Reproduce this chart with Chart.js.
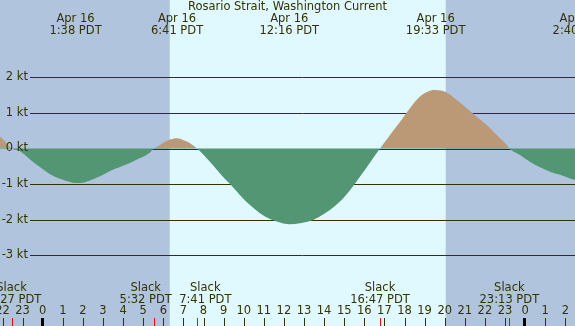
<!DOCTYPE html>
<html>
<head>
<meta charset="utf-8">
<script src="https://cdn.jsdelivr.net/npm/chart.js@4/dist/chart.umd.min.js"></script>
<style>
  body { margin: 0; background: #b0c4de; }
  #wrap { width: 575px; height: 326px; position: relative; }
</style>
</head>
<body>
<div id="wrap"><canvas id="tide-chart-canvas"></canvas></div>
<script>
// 時刻 (Apr 16 0:00 からの時間) と流速 (kt).
const times = [
  -2.12, -1.85, -1.55, -1.13, -0.63, -0.13, 0.36, 0.86, 1.36, 1.63, 1.86, 2.35, 2.85, 3.35, 3.85, 4.34, 4.84, 5.34, 5.53,
  5.84, 6.08, 6.33, 6.68, 7.08, 7.33, 7.68,
  8.32, 8.82, 9.32, 9.82, 10.31, 10.81, 11.31, 11.81, 12.27, 12.80, 13.30, 13.80, 14.29, 14.79, 15.29, 15.79, 16.28, 16.78,
  17.28, 17.78, 18.27, 18.77, 19.27, 19.55, 20.10, 20.60, 21.10, 21.59, 22.09, 22.59, 23.09, 23.22,
  23.75, 24.24, 24.74, 25.24, 25.74, 26.23, 26.48, 26.67
];
const speeds = [
  0.34, 0.18, 0, -0.08, -0.31, -0.53, -0.72, -0.85, -0.94, -0.97, -0.97, -0.90, -0.78, -0.63, -0.52, -0.41, -0.27, -0.11, 0,
  0.10, 0.19, 0.25, 0.29, 0.22, 0.15, 0,
  -0.37, -0.70, -1.00, -1.31, -1.59, -1.82, -1.98, -2.08, -2.13, -2.10, -2.04, -1.90, -1.73, -1.49, -1.17, -0.79, -0.40, 0,
  0.38, 0.75, 1.13, 1.46, 1.62, 1.64, 1.57, 1.36, 1.13, 0.89, 0.66, 0.38, 0.10, 0,
  -0.18, -0.37, -0.53, -0.65, -0.74, -0.84, -0.88, -0.90
];

// 最大流の時刻とラベル (上).
const eventTimes = [1.633, 6.683, 12.267, 19.55, 26.667];
const eventDates = ['Apr 16', 'Apr 16', 'Apr 16', 'Apr 16', 'Apr 17'];
const eventLabels = ['1:38 PDT', '6:41 PDT', '12:16 PDT', '19:33 PDT', '2:40 PDT'];

// 憩流 (下).
const slackTimes = [-1.55, 5.533, 7.683, 16.783, 23.217];
const slackLabels = ['22:27 PDT', '5:32 PDT', '7:41 PDT', '16:47 PDT', '23:13 PDT'];

// 目盛り.
const hourTicks = [-2, -1, 0, 1, 2, 3, 4, 5, 6, 7, 8, 9, 10, 11, 12, 13, 14, 15, 16, 17, 18, 19, 20, 21, 22, 23, 24, 25, 26];
const ktTicks = [2, 1, 0, -1, -2, -3];

// 日の出・日の入り.
const sunrise = 6.32;
const sunset = 20.05;

const TITLE = 'Rosario Strait, Washington Current';
const NightColor = '#b0c4de';
const DayColor = '#e0f8ff';
const FloodColor = '#bb9977';
const EbbColor = '#529673';
const InkColor = '#333300';
const FONT = '11.5px "DejaVu Sans"';

// 背景 (昼/夜) と横線.
const backgroundPlugin = {
  id: 'background',
  beforeDraw(chart) {
    const ctx = chart.ctx;
    const x = chart.scales.x;
    ctx.save();
    ctx.fillStyle = NightColor;
    ctx.fillRect(0, 0, chart.width, chart.height);
    const x0 = x.getPixelForValue(sunrise);
    const x1 = x.getPixelForValue(sunset);
    ctx.fillStyle = DayColor;
    ctx.fillRect(x0, 0, x1 - x0, chart.height);
    const y = chart.scales.y;
    ctx.strokeStyle = InkColor;
    ctx.lineWidth = 1;
    ktTicks.forEach(function(v) {
      const py = Math.round(y.getPixelForValue(v)) + 0.5;
      ctx.beginPath();
      ctx.moveTo(30, py);
      ctx.lineTo(chart.width, py);
      ctx.stroke();
    });
    ctx.restore();
  }
};

// ラベル類.
const labelPlugin = {
  id: 'labels',
  afterDatasetsDraw(chart) {
    const ctx = chart.ctx;
    const x = chart.scales.x;
    const y = chart.scales.y;
    ctx.save();
    ctx.font = FONT;
    ctx.fillStyle = InkColor;
    ctx.textBaseline = 'middle';

    // 縦軸ラベル.
    ctx.textAlign = 'right';
    ktTicks.forEach(function(v) {
      ctx.fillText(v + ' kt', 28, y.getPixelForValue(v));
    });

    // タイトル.
    ctx.textAlign = 'center';
    ctx.fillText(TITLE, chart.width / 2, 7);

    // 最大流.
    eventTimes.forEach(function(t, i) {
      const px = x.getPixelForValue(t);
      ctx.fillText(eventDates[i], px, 19.5);
      ctx.fillText(eventLabels[i], px, 31.5);
    });

    // 憩流ラベル (重なったら左右にずらす).
    const centers = slackTimes.map(function(t) { return x.getPixelForValue(t); });
    const w = Math.max.apply(null, slackLabels.map(function(s) { return ctx.measureText(s).width; }));
    for (let i = 0; i < centers.length - 1; i++) {
      const d = centers[i + 1] - centers[i];
      if (d < w) {
        centers[i] -= (w - d) / 2;
        centers[i + 1] += (w - d) / 2;
      }
    }
    centers.forEach(function(px, i) {
      ctx.fillText('Slack', px, 288);
      ctx.fillText(slackLabels[i], px, 300);
    });

    // 時刻目盛り.
    hourTicks.forEach(function(h) {
      const px = x.getPixelForValue(h);
      ctx.fillStyle = InkColor;
      ctx.fillText(String(((h % 24) + 24) % 24), px, 311);
      if (h % 24 === 0) {
        ctx.fillStyle = '#000000';
        ctx.fillRect(Math.round(px) - 2, 318, 3, 8);
      } else {
        ctx.fillRect(Math.round(px), 318, 1, 8);
      }
    });
    ctx.fillStyle = '#ff0000';
    slackTimes.forEach(function(t) {
      ctx.fillRect(Math.round(x.getPixelForValue(t)), 318, 1, 8);
    });
    ctx.restore();
  }
};

// 0 kt を境に上下で色を変える.
function currentFill(context) {
  const chart = context.chart;
  const area = chart.chartArea;
  if (!area) {
    return EbbColor;
  }
  const z = chart.scales.y.getPixelForValue(0);
  const stop = Math.min(1, Math.max(0, (z - area.top) / (area.bottom - area.top)));
  const g = chart.ctx.createLinearGradient(0, area.top, 0, area.bottom);
  g.addColorStop(0, FloodColor);
  g.addColorStop(stop, FloodColor);
  g.addColorStop(stop, EbbColor);
  g.addColorStop(1, EbbColor);
  return g;
}

const xMin = -42.7 / 20.1;
const xMax = (575 - 42.7) / 20.1;
const yMax = 148.5 / 35.6;
const yMin = -(326 - 148.5) / 35.6;

new Chart(document.getElementById('tide-chart-canvas'), {
  type: 'scatter',
  data: {
    datasets: [
      {
        label: 'Current',
        data: times.map(function(t, i) { return { x: t, y: speeds[i] }; }),
        showLine: true,
        pointRadius: 0,
        borderWidth: 0,
        borderColor: 'rgba(0,0,0,0)',
        cubicInterpolationMode: 'monotone',
        backgroundColor: currentFill,
        fill: 'origin',
      },
    ],
  },
  options: {
    responsive: true,
    maintainAspectRatio: false,
    animation: false,
    layout: { padding: 0 },
    plugins: {
      legend: { display: false },
      tooltip: { enabled: false },
      title: { display: false },
    },
    scales: {
      x: { type: 'linear', min: xMin, max: xMax, display: false },
      y: { type: 'linear', min: yMin, max: yMax, display: false },
    },
  },
  plugins: [backgroundPlugin, labelPlugin],
});
</script>
</body>
</html>
